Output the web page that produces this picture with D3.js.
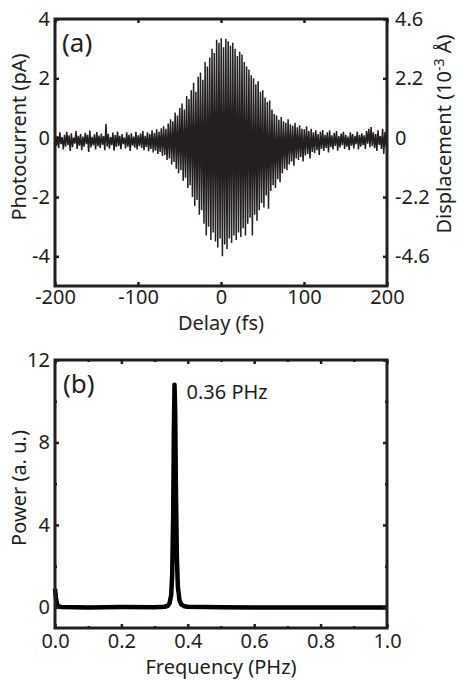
<!DOCTYPE html>
<html>
<head>
<meta charset="utf-8">
<script src="https://cdn.jsdelivr.net/npm/d3@7"></script>
<style>
  body { margin: 0; background: #fff; }
  svg { display: block; font-family: "Noto Sans", sans-serif; }
</style>
</head>
<body>
<svg id="chart"></svg>
<script>
(function() {

    // Panel (a): photocurrent trace, one peak and one trough per optical cycle.
    const delayRange = [-200, 200];
    const delayPeaks = [
        0.12, 0.05, 0.18, 0.02, 0.10, 0.20, 0.08, 0.15, 0.00, 0.22, 0.06, 0.12,
        0.04, 0.16, 0.10, 0.24, 0.03, 0.11, 0.19, 0.07, 0.14, 0.05, 0.46, 0.13,
        0.02, 0.17, 0.09, 0.21, 0.06, 0.12, 0.00, 0.18, 0.10, 0.15, 0.04, 0.20,
        0.08, 0.14, 0.22, 0.06, 0.18, 0.12, 0.25, 0.16, 0.28, 0.20, 0.32, 0.38,
        0.30, 0.48, 0.62, 0.55, 0.85, 0.75, 1.00, 1.15, 0.95, 1.40, 1.30, 1.60,
        1.85, 1.55, 2.05, 2.20, 1.95, 2.55, 2.40, 2.70, 3.00, 2.85, 3.30, 3.20,
        3.35, 3.05, 3.33, 3.25, 3.10, 3.20, 3.00, 2.75, 2.90, 2.80, 2.55, 2.40,
        2.30, 2.10, 2.00, 1.80, 1.90, 1.55, 1.60, 1.35, 1.20, 1.25, 0.95, 0.80,
        0.75, 0.60, 0.70, 0.55, 0.50, 0.62, 0.45, 0.40, 0.50, 0.35, 0.42, 0.30,
        0.28, 0.38, 0.22, 0.30, 0.18, 0.25, 0.12, 0.20, 0.26, 0.10, 0.18, 0.24,
        0.08, 0.16, 0.22, 0.05, 0.14, 0.20, 0.10, 0.04, 0.18, 0.12, 0.06, 0.20,
        0.10, 0.15, 0.08, 0.22, 0.30, 0.36, 0.18, 0.12, 0.25, 0.05, 0.30, 0.20
    ];
    const delayTroughs = [
        -0.28, -0.35, -0.22, -0.40, -0.30, -0.25, -0.45, -0.32, -0.20, -0.38, -0.27, -0.42,
        -0.30, -0.22, -0.48, -0.33, -0.26, -0.40, -0.29, -0.35, -0.24, -0.42, -0.30, -0.37,
        -0.25, -0.44, -0.31, -0.28, -0.39, -0.22, -0.36, -0.30, -0.45, -0.27, -0.34, -0.40,
        -0.29, -0.35, -0.42, -0.31, -0.46, -0.38, -0.50, -0.44, -0.55, -0.48, -0.62, -0.58,
        -0.75, -0.70, -0.90, -0.82, -1.05, -1.20, -1.10, -1.45, -1.35, -1.70, -1.60, -2.00,
        -2.30, -2.10, -2.60, -2.45, -2.90, -3.30, -3.00, -3.45, -3.20, -3.50, -3.70, -3.40,
        -4.00, -3.60, -3.75, -3.40, -3.55, -3.30, -3.45, -3.20, -3.35, -3.05, -3.30, -2.90,
        -2.70, -3.30, -2.60, -2.80, -2.45, -2.20, -2.35, -1.95, -2.40, -1.80, -1.60, -1.70,
        -1.40, -1.50, -1.20, -1.05, -1.10, -0.90, -0.80, -0.95, -0.70, -0.75, -0.65, -0.80,
        -0.60, -0.55, -0.70, -0.48, -0.52, -0.42, -0.58, -0.38, -0.45, -0.35, -0.50, -0.32,
        -0.40, -0.28, -0.44, -0.33, -0.25, -0.38, -0.30, -0.42, -0.27, -0.36, -0.22, -0.40,
        -0.30, -0.25, -0.38, -0.20, -0.32, -0.28, -0.35, -0.45, -0.24, -0.38, -0.55, -0.30
    ];
    const delayTicks = [-200, -100, 0, 100, 200];
    const currentTicks = [-4, -2, 0, 2, 4];
    const displacementLabels = ['-4.6', '-2.2', '0', '2.2', '4.6'];

    // Panel (b): power spectrum.
    const specFreq = [0, 0.003, 0.006, 0.01, 0.02, 0.1, 0.2, 0.3, 0.33, 0.34, 0.345, 0.35, 0.353, 0.356, 0.358, 0.36, 0.362, 0.364, 0.367, 0.37, 0.375, 0.38, 0.39, 0.4, 0.5, 0.6, 0.7, 0.8, 0.9, 1.0];
    const specPower = [0.9, 0.45, 0.18, 0.05, 0.02, 0.0, 0.02, 0.01, 0.03, 0.08, 0.2, 0.6, 1.6, 4.5, 8.5, 10.8, 9.5, 6.0, 2.5, 1.0, 0.35, 0.15, 0.05, 0.03, 0.01, 0.0, 0.0, 0.0, 0.0, 0.0];
    const freqTicks = [0, 0.2, 0.4, 0.6, 0.8, 1.0];
    const freqMinor = [0.1, 0.3, 0.5, 0.7, 0.9];
    const powerTicks = [0, 4, 8, 12];
    const powerMinor = [2, 6, 10];

    const w = 458;
    const h = 680;
    const ink = '#231f20';

    const svg = d3.select('#chart')
        .attr('width', w)
        .attr('height', h);

    const left = 55;
    const right = 387;

    // plain hyphen for negatives, as in the figure
    const plain = d => String(d);

    // ---------- panel (a) ----------
    const aTop = 19, aBottom = 286;
    const xA = d3.scaleLinear().domain(delayRange).range([left, right]);
    const yA = d3.scaleLinear().domain([-5, 4]).range([aBottom, aTop]);

    const period = (delayRange[1] - delayRange[0]) / delayPeaks.length;
    const trace = [];
    delayPeaks.forEach((p, k) => {
        const t0 = delayRange[0] + k * period + 0.3;
        trace.push([t0, p]);
        trace.push([t0 + period / 2, delayTroughs[k]]);
    });

    svg.append('clipPath').attr('id', 'clipA')
        .append('rect')
        .attr('x', left).attr('y', aTop)
        .attr('width', right - left).attr('height', aBottom - aTop);

    svg.append('path')
        .datum(trace)
        .attr('clip-path', 'url(#clipA)')
        .attr('fill', 'none')
        .attr('stroke', ink)
        .attr('stroke-width', 1.5)
        .attr('d', d3.line().x(d => xA(d[0])).y(d => yA(d[1])));

    const styleAxis = g => {
        g.select('.domain').remove();
        g.selectAll('line').attr('stroke', ink).attr('stroke-width', 2.5);
        g.selectAll('text').attr('fill', ink).attr('font-size', 20)
            .attr('font-family', '"Noto Sans", sans-serif');
    };

    svg.append('g')
        .attr('transform', `translate(0, ${aBottom})`)
        .call(d3.axisBottom(xA).tickValues(delayTicks).tickSize(-4).tickPadding(4).tickFormat(plain))
        .call(styleAxis);
    svg.append('g')
        .attr('transform', `translate(0, ${aTop})`)
        .call(d3.axisTop(xA).tickValues(delayTicks).tickSize(-4).tickFormat(''))
        .call(styleAxis);
    svg.append('g')
        .attr('transform', `translate(${left}, 0)`)
        .call(d3.axisLeft(yA).tickValues(currentTicks).tickSize(-4).tickPadding(5).tickFormat(plain))
        .call(styleAxis);
    svg.append('g')
        .attr('transform', `translate(${right}, 0)`)
        .call(d3.axisRight(yA).tickValues(currentTicks).tickSize(-4).tickPadding(8)
            .tickFormat((d, i) => displacementLabels[i]))
        .call(styleAxis);

    svg.append('rect')
        .attr('x', left).attr('y', aTop)
        .attr('width', right - left).attr('height', aBottom - aTop)
        .attr('fill', 'none').attr('stroke', ink).attr('stroke-width', 3);

    svg.append('text').attr('x', 62).attr('y', 52)
        .attr('font-size', 26).attr('fill', ink).text('(a)');

    svg.append('text').attr('x', (left + right) / 2).attr('y', 330)
        .attr('text-anchor', 'middle').attr('font-size', 20).attr('fill', ink)
        .text('Delay (fs)');

    svg.append('text')
        .attr('transform', 'translate(26, 137) rotate(-90)')
        .attr('text-anchor', 'middle').attr('font-size', 20).attr('fill', ink)
        .text('Photocurrent (pA)');

    const dispLabel = svg.append('text')
        .attr('transform', 'translate(451, 134) rotate(-90)')
        .attr('text-anchor', 'middle').attr('font-size', 20).attr('fill', ink);
    dispLabel.append('tspan').text('Displacement (10');
    dispLabel.append('tspan').attr('dy', -7).attr('font-size', 14).text('-3');
    dispLabel.append('tspan').attr('dy', 7).text(' Å)');

    // ---------- panel (b) ----------
    const bTop = 360, bBottom = 628;
    const xB = d3.scaleLinear().domain([0, 1]).range([left, right]);
    const yB = d3.scaleLinear().domain([-1, 12]).range([bBottom, bTop]);

    svg.append('path')
        .datum(specFreq.map((f, i) => [f, specPower[i]]))
        .attr('fill', 'none')
        .attr('stroke', '#000')
        .attr('stroke-width', 4.5)
        .attr('stroke-linejoin', 'round')
        .attr('d', d3.line().x(d => xB(d[0])).y(d => yB(d[1])));

    svg.append('g')
        .attr('transform', `translate(0, ${bBottom})`)
        .call(d3.axisBottom(xB).tickValues(freqTicks).tickSize(-4).tickPadding(6).tickFormat(d3.format('.1f')))
        .call(styleAxis);
    svg.append('g')
        .attr('transform', `translate(0, ${bBottom})`)
        .call(d3.axisBottom(xB).tickValues(freqMinor).tickSize(-2).tickFormat(''))
        .call(styleAxis);
    svg.append('g')
        .attr('transform', `translate(0, ${bTop})`)
        .call(d3.axisTop(xB).tickValues(freqTicks).tickSize(-4).tickFormat(''))
        .call(styleAxis);
    svg.append('g')
        .attr('transform', `translate(0, ${bTop})`)
        .call(d3.axisTop(xB).tickValues(freqMinor).tickSize(-2).tickFormat(''))
        .call(styleAxis);
    svg.append('g')
        .attr('transform', `translate(${left}, 0)`)
        .call(d3.axisLeft(yB).tickValues(powerTicks).tickSize(-4).tickPadding(5).tickFormat(plain))
        .call(styleAxis);
    svg.append('g')
        .attr('transform', `translate(${left}, 0)`)
        .call(d3.axisLeft(yB).tickValues(powerMinor).tickSize(-2).tickFormat(''))
        .call(styleAxis);
    svg.append('g')
        .attr('transform', `translate(${right}, 0)`)
        .call(d3.axisRight(yB).tickValues(powerTicks).tickSize(-4).tickFormat(''))
        .call(styleAxis);
    svg.append('g')
        .attr('transform', `translate(${right}, 0)`)
        .call(d3.axisRight(yB).tickValues(powerMinor).tickSize(-2).tickFormat(''))
        .call(styleAxis);

    svg.append('rect')
        .attr('x', left).attr('y', bTop)
        .attr('width', right - left).attr('height', bBottom - bTop)
        .attr('fill', 'none').attr('stroke', ink).attr('stroke-width', 3);

    svg.append('text').attr('x', 63).attr('y', 393)
        .attr('font-size', 26).attr('fill', ink).text('(b)');

    svg.append('text').attr('x', xB(0.36) + 12).attr('y', 399)
        .attr('font-size', 20).attr('fill', ink).text('0.36 PHz');

    svg.append('text').attr('x', (left + right) / 2).attr('y', 674)
        .attr('text-anchor', 'middle').attr('font-size', 20).attr('fill', ink)
        .text('Frequency (PHz)');

    svg.append('text')
        .attr('transform', 'translate(26, 488) rotate(-90)')
        .attr('text-anchor', 'middle').attr('font-size', 20).attr('fill', ink)
        .text('Power (a. u.)');

})();
</script>
</body>
</html>
